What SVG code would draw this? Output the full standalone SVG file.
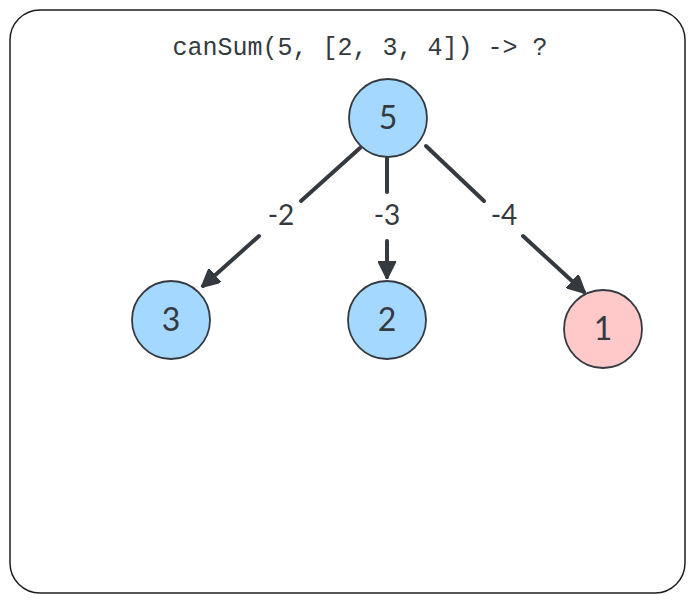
<svg xmlns="http://www.w3.org/2000/svg" width="694" height="603" viewBox="0 0 694 603">
<style>
.frame{fill:#fff;stroke:#1e1e1e;stroke-width:1.5}
.node{stroke:#343a40;stroke-width:1.8}
.blue{fill:#a5d8ff}
.red{fill:#ffc9c9}
.nt{font-family:"Lato","Liberation Sans",sans-serif;font-size:32px;fill:#343a40;text-anchor:middle}
.lbl{font-family:"Lato","Liberation Sans",sans-serif;font-size:28px;fill:#343a40;text-anchor:middle}
.title{font-family:"Liberation Mono","DejaVu Sans Mono",monospace;font-size:25px;fill:#343a40;text-anchor:middle}
.edge{stroke:#343a40;stroke-width:4;fill:none;stroke-linecap:round}
</style>
<defs>
<marker id="ah" viewBox="0 0 10 10" refX="9" refY="5" markerWidth="4.5" markerHeight="4.5" orient="auto" markerUnits="strokeWidth">
<path d="M0,0 L10,5 L0,10 Z" fill="#343a40" stroke="#343a40" stroke-width="1" stroke-linejoin="round"/>
</marker>
</defs>
<rect class="frame" x="10" y="10" width="675" height="583" rx="30"/>
<text class="title" x="360" y="55">canSum(5, [2, 3, 4]) -&gt; ?</text>
<g id="connectors">
<line class="edge" x1="360" y1="148" x2="301" y2="201"/>
<line class="edge" x1="259" y1="236" x2="203" y2="286" marker-end="url(#ah)"/>
<line class="edge" x1="387" y1="158" x2="387" y2="192"/>
<line class="edge" x1="387" y1="241" x2="387" y2="277" marker-end="url(#ah)"/>
<line class="edge" x1="426" y1="146" x2="484" y2="201"/>
<line class="edge" x1="523" y1="236" x2="584" y2="292" marker-end="url(#ah)"/>
<text class="lbl" x="281" y="225">-2</text>
<text class="lbl" x="387" y="225">-3</text>
<text class="lbl" x="504" y="225">-4</text>
</g>
<g id="n5">
<circle class="node blue" cx="388" cy="118" r="39"/>
<text class="nt" x="388" y="129">5</text>
</g>
<g id="n3">
<circle class="node blue" cx="171" cy="320" r="39"/>
<text class="nt" x="171" y="331">3</text>
</g>
<g id="n2">
<circle class="node blue" cx="387" cy="320" r="39"/>
<text class="nt" x="387" y="331">2</text>
</g>
<g id="n1">
<circle class="node red" cx="603" cy="329" r="39"/>
<text class="nt" x="603" y="340">1</text>
</g>
</svg>
